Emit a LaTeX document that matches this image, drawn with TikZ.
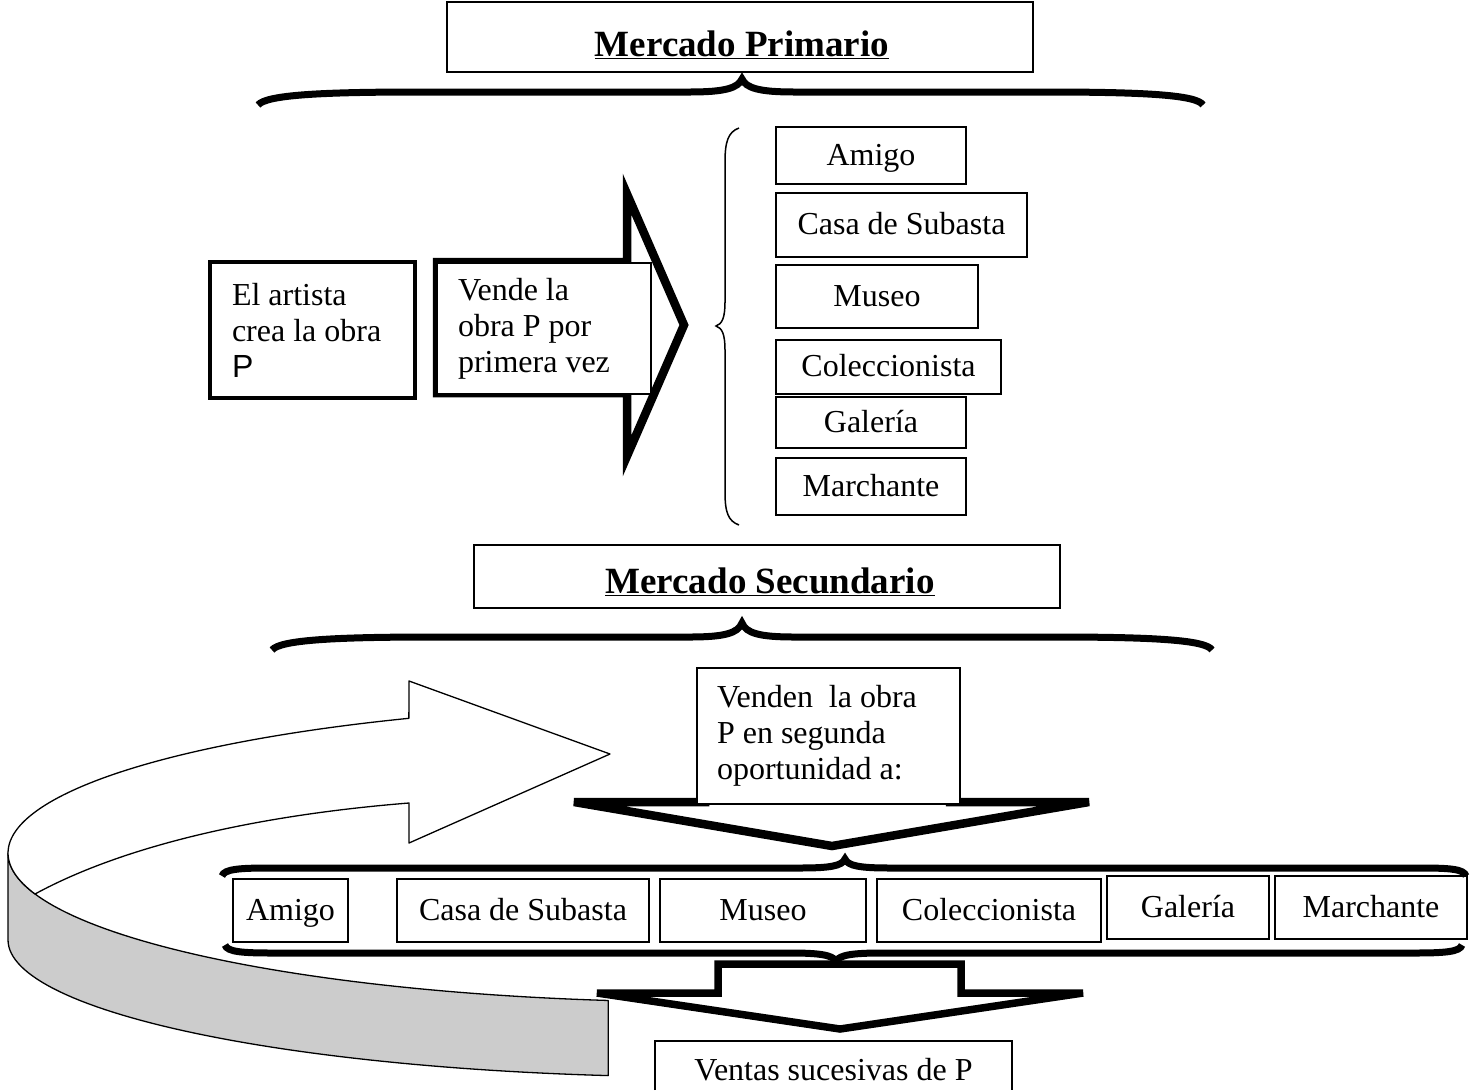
\documentclass[tikz,border=0pt]{standalone}
\usepackage{fontspec}
\setmainfont{Liberation Serif}
\newfontfamily\arialfam{Liberation Sans}
\begin{document}
\begin{tikzpicture}[x=1pt,y=-1pt,
  txt/.style={font=\fontsize{32pt}{36pt}\selectfont},
  ttl/.style={font=\fontsize{37pt}{44pt}\selectfont\bfseries, inner sep=0pt},
  box/.style={draw, line width=1.5pt, fill=white, inner sep=0pt, txt, text height=24pt, text depth=5pt},
  rowbox/.style={box, line width=1.8pt, minimum height=63pt},
  textbox/.style={draw, fill=white, inner sep=0pt, txt, align=flush left},
  bigbrace/.style={line width=7pt, line cap=butt},
  fatarrow/.style={draw, line width=8.5pt, fill=white, line join=miter},
  ringline/.style={line width=1.3pt, line join=round},
]
\useasboundingbox (0,0) rectangle (1475,1090);

% ---- curved return arrow (grey side band + white face)
\draw[ringline, fill=gray!40]
  plot[domain=180:98.2, samples=60] ({708+700*cos(\x)},{853+149*sin(\x)})
  -- plot[domain=98.2:180, samples=60] ({708+700*cos(\x)},{940+137*sin(\x)}) -- cycle;
\draw[ringline, fill=white]
  (409,681) -- (610,754) -- (409,843) -- (409,803)
  .. controls (259,815) and (125,845) .. (35,894)
  -- plot[domain=164:244.7, samples=80] ({708+700*cos(\x)},{853+149*sin(\x)}) -- cycle;

% ---- titles
\node[draw, line width=1.5pt, minimum width=586pt, minimum height=70pt, inner sep=0pt] (t1box) at (740,37) {};
\node[ttl, anchor=base] (t1) at (742,56) {\underline{Mercado Primario}};
\node[draw, line width=1.5pt, minimum width=586pt, minimum height=63pt, inner sep=0pt] (t2box) at (767,576.5) {};
\node[ttl, anchor=base] (t2) at (770,593) {\underline{Mercado Secundario}};

% ---- big braces
\draw[bigbrace] (258,105) .. controls (266,95) and (320,92) .. (420,92) -- (690,92)
  .. controls (725,92) and (738,88) .. (742,79) .. controls (746,88) and (759,92) .. (794,92)
  -- (1045,92) .. controls (1145,92) and (1197,95) .. (1203,105);
\draw[bigbrace] (272,650) .. controls (280,640) and (334,637) .. (434,637) -- (690,637)
  .. controls (725,637) and (738,633) .. (742,623) .. controls (746,633) and (759,637) .. (794,637)
  -- (1054,637) .. controls (1154,637) and (1206,640) .. (1212,650);

% ---- first sale arrow
\draw[fatarrow] (627,262) -- (627,194) -- (684,325) -- (627,456) -- (627,393) -- (437,393) -- (437,262) -- cycle;
\node[textbox, line width=4.5pt, minimum width=205pt, minimum height=136pt, text width=161pt] (artista) at (312.5,330)
  {El artista\\crea la obra\\{\arialfam P}};
\node[textbox, line width=1.5pt, minimum width=214pt, minimum height=131pt, text width=172pt] (vende) at (544,328.5)
  {Vende la\\obra P por\\primera vez};

% ---- right thin brace
\draw[line width=1.5pt] (739,128) .. controls (728,132) and (725,142) .. (725,162) -- (725,302)
  .. controls (725,318) and (722,324) .. (716,326) .. controls (722,328) and (725,334) .. (725,350)
  -- (725,492) .. controls (725,512) and (728,521) .. (739,525);

% ---- primary buyers
\node[box, minimum width=190pt, minimum height=57pt] (p1) at (871,155.5) {Amigo};
\node[box, minimum width=251pt, minimum height=64pt] (p2) at (901.5,225) {Casa de Subasta};
\node[box, minimum width=202pt, minimum height=63pt] (p3) at (877,296.5) {Museo};
\node[box, minimum width=225pt, minimum height=54pt] (p4) at (888.5,367) {Coleccionista};
\node[box, minimum width=190pt, minimum height=51pt] (p5) at (871,422.5) {Galería};
\node[box, minimum width=190pt, minimum height=57pt] (p6) at (871,486.5) {Marchante};

% ---- second sale arrow
\draw[fatarrow] (705,700) -- (950,700) -- (950,802) -- (1089,802) -- (832,846) -- (574,802) -- (705,802) -- cycle;
\node[textbox, line width=1.5pt, minimum width=263pt, minimum height=136pt, text width=223pt] (venden) at (828.5,736)
  {Venden~ la obra\\P en segunda\\oportunidad a:};

% ---- secondary buyers row
\node[rowbox, minimum width=115pt] (s1) at (290.5,910.5) {Amigo};
\node[rowbox, minimum width=252pt] (s2) at (523,910.5) {Casa de Subasta};
\node[rowbox, minimum width=206pt] (s3) at (763,910.5) {Museo};
\node[rowbox, minimum width=224pt] (s4) at (989,910.5) {Coleccionista};
\node[rowbox, minimum width=162pt] (s5) at (1188,907.5) {Galería};
\node[rowbox, minimum width=192pt] (s6) at (1371,907.5) {Marchante};

\draw[bigbrace] (222,876) .. controls (224,869) and (240,868) .. (270,868) -- (800,868)
  .. controls (830,868) and (842,866) .. (845,859) .. controls (848,866) and (860,868) .. (890,868)
  -- (1420,868) .. controls (1450,868) and (1464,869) .. (1466,876);
\draw[bigbrace] (225,945) .. controls (227,952) and (243,953) .. (273,953) -- (790,953)
  .. controls (820,953) and (832,955) .. (836,961) .. controls (840,955) and (852,953) .. (882,953)
  -- (1414,953) .. controls (1444,953) and (1460,952) .. (1462,945);

% ---- successive sales arrow
\draw[fatarrow, line width=7.5pt] (718,964) -- (961,964) -- (961,993) -- (1083,993) -- (840,1029) -- (597,993) -- (718,993) -- cycle;
\node[inner sep=0pt, minimum width=357pt, minimum height=49pt, txt, text height=29pt, text depth=0pt] (ventas) at (833.5,1065.5)
  {Ventas sucesivas de P};
\draw[line width=1.5pt] (ventas.south west) -- (ventas.north west) -- (ventas.north east) -- (ventas.south east);
\end{tikzpicture}
\end{document}
